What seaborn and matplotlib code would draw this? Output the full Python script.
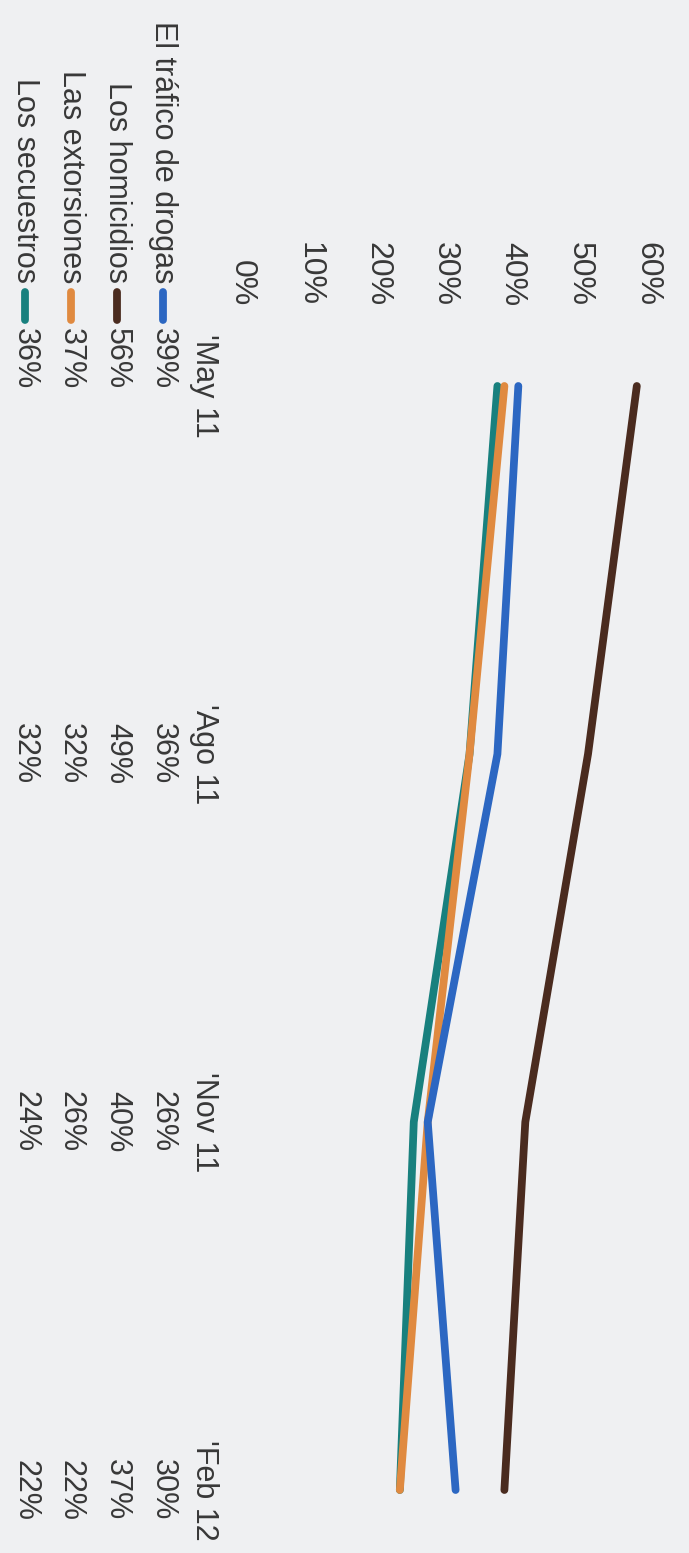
import matplotlib
matplotlib.use("Agg")
import matplotlib.pyplot as plt
import matplotlib.transforms as mtransforms
from matplotlib.lines import Line2D
import numpy as np
import pandas as pd
import seaborn as sns

# ---------------- data ----------------
periods = ["'May 11", "'Ago 11", "'Nov 11", "'Feb 12"]
series_names = ["El tráfico de drogas", "Los homicidios", "Las extorsiones", "Los secuestros"]
drogas = [39, 36, 26, 30]
homicidios = [56, 49, 40, 37]
extorsiones = [37, 32, 26, 22]
secuestros = [36, 32, 24, 22]
pct_ticks = [0, 10, 20, 30, 40, 50, 60]

values = {
    "El tráfico de drogas": drogas,
    "Los homicidios": homicidios,
    "Las extorsiones": extorsiones,
    "Los secuestros": secuestros,
}
colors = {
    "El tráfico de drogas": "#2c67c2",
    "Los homicidios": "#4a2b1f",
    "Las extorsiones": "#e08a40",
    "Los secuestros": "#18807e",
}

rows = []
for name in series_names:
    for j, v in enumerate(values[name]):
        rows.append({"serie": name, "pos": j, "valor": v})
df = pd.DataFrame(rows)

# ---------------- layout ----------------
W, H, DPI = 689, 1553, 100
BG = "#eff0f2"
TXT = "#383838"
FS = 22
FS_TICK = 23

sns.set_style("white")
plt.rcParams["font.family"] = ["Liberation Sans", "DejaVu Sans"]

fig = plt.figure(figsize=(W / DPI, H / DPI), dpi=DPI, facecolor=BG)

left_px, top_px = 226, 312
ax = fig.add_axes([left_px / W, 0, 1 - left_px / W, 1 - top_px / H])
ax.set_facecolor("none")

x0_px = 246.5            # pixel of 0%
px_per_pct = 6.97        # pixels per percentage point
y0_px = 386.0            # pixel of first period
y_step = 368.0           # pixels per period

ax.set_xlim((left_px - x0_px) / px_per_pct, (W - x0_px) / px_per_pct)
ax.set_ylim((H - y0_px) / y_step, (top_px - y0_px) / y_step)

draw_order = ["Los secuestros", "Las extorsiones", "El tráfico de drogas", "Los homicidios"]
sns.lineplot(data=df, x="valor", y="pos", hue="serie", hue_order=draw_order,
             palette=colors, orient="y", sort=False, linewidth=5.6,
             legend=False, ax=ax)
for ln in ax.lines:
    ln.set_solid_capstyle("round")
    ln.set_clip_on(False)

for s in ax.spines.values():
    s.set_visible(False)
ax.grid(False)
ax.set_xlabel("")
ax.set_ylabel("")

# percentage scale labels (rotated: along the top); in the source they sit
# slightly left of the true value positions, spaced a little tighter
ax.set_xticks([])
lab_x0_px, lab_step_px = 241.5, 6.77
for t in pct_ticks:
    ax.text((lab_x0_px + lab_step_px * t) / W, 1 - 306 / H, f"{t}%",
            transform=fig.transFigure, rotation=-90, ha="center", va="bottom",
            fontsize=FS_TICK, color=TXT)

# period axis (rotated: along the left)
ax.set_yticks(range(len(periods)), labels=periods)
ax.tick_params(axis="y", length=0, pad=5, labelsize=FS, labelcolor=TXT,
               labelrotation=-90)
for lab in ax.get_yticklabels():
    lab.set_va("center")
    lab.set_ha("right")

# value table + legend
col_x_px = {"El tráfico de drogas": 163, "Los homicidios": 117,
            "Las extorsiones": 71, "Los secuestros": 25}
blend = mtransforms.blended_transform_factory(fig.transFigure, ax.transData)
first_shift = -27.0 / y_step
for name in series_names:
    xf = col_x_px[name] / W
    for j, v in enumerate(values[name]):
        yy = j + (first_shift if j == 0 else 0)
        ax.text(xf, yy, f"{v}%", transform=blend, rotation=-90,
                ha="center", va="center", fontsize=FS, color=TXT)
    fig.text(xf, 1 - 283 / H, name, rotation=-90, ha="center", va="bottom",
             fontsize=FS, color=TXT)
    fig.add_artist(Line2D([xf, xf], [1 - 292 / H, 1 - 320 / H],
                          transform=fig.transFigure, color=colors[name],
                          linewidth=5.6, solid_capstyle="round"))

fig.savefig("out.png", dpi=DPI, facecolor=BG)
